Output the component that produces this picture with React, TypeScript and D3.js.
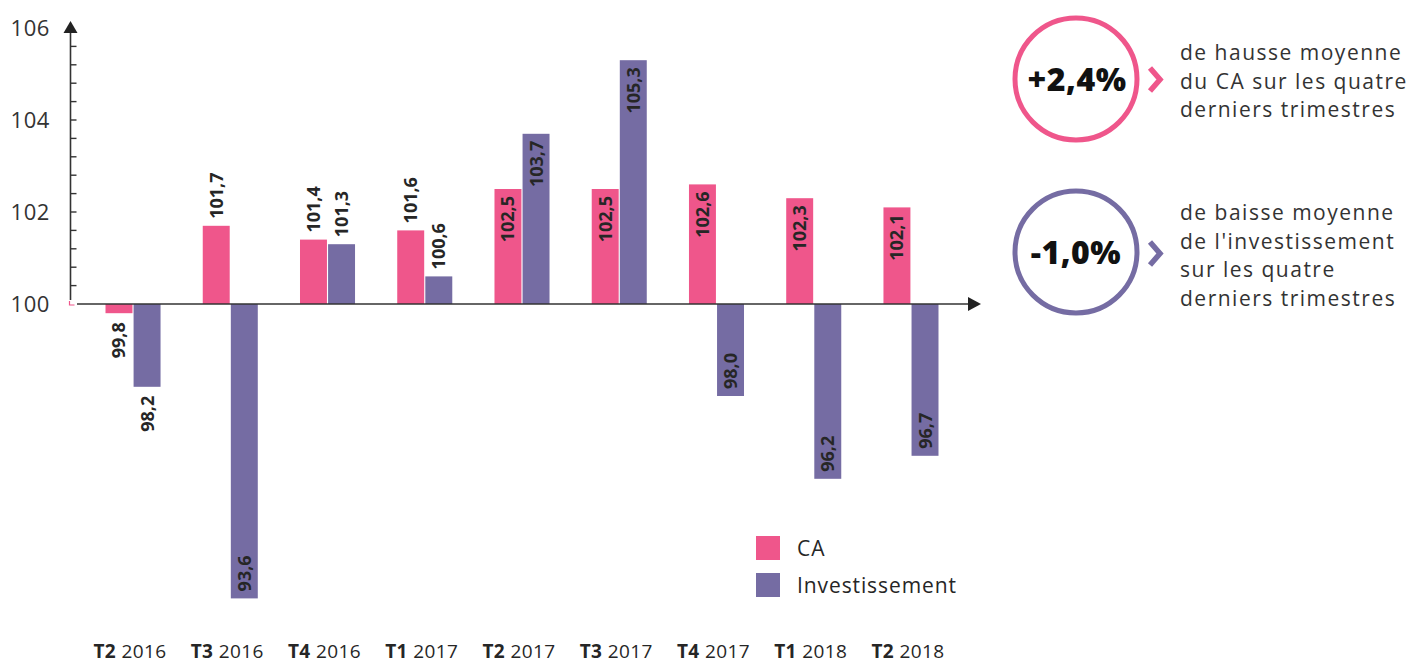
import React from "react";
import * as d3 from "d3";

const categories = ["T2|2016", "T3|2016", "T4|2016", "T1|2017", "T2|2017", "T3|2017", "T4|2017", "T1|2018", "T2|2018"];
const caValues = [99.8, 101.7, 101.4, 101.6, 102.5, 102.5, 102.6, 102.3, 102.1];
const invValues = [98.2, 93.6, 101.3, 100.6, 103.7, 105.3, 98.0, 96.2, 96.7];
const yTicks = [100, 102, 104, 106];
const seriesNames = ["CA", "Investissement"];
const PINK = "#ef568b";
const PURPLE = "#756ca3";
const colors = [PINK, PURPLE];
const TEXT = "#262626";
const FONT = "'Open Sans', Lato, sans-serif";

const fmt = (v: number) => v.toFixed(1).replace(".", ",");

export default function App() {
  const W = 1418, H = 664;
  const axisX = 70.5;
  const baseY = 304;
  const y = d3.scaleLinear().domain([100, 106]).range([baseY, 28]);
  const x = d3.scaleBand<string>().domain(categories).range([84.4, 959.6]).paddingInner(0.434).paddingOuter(0.217);
  const sub = d3.scaleBand<number>().domain([0, 1]).range([0, x.bandwidth()]).paddingInner(0.04);
  const minor = d3.range(100.4, 105.7, 0.4);

  const series = [caValues, invValues];

  return (
    <svg width={W} height={H} style={{ position: "absolute", left: 0, top: 0, background: "#fff" }} fontFamily={FONT}>
      {/* y axis */}
      <line x1={axisX} x2={axisX} y1={30} y2={300} stroke="#333" strokeWidth={1.6} />
      <path d={`M${axisX},21 L${axisX - 7},33 L${axisX + 7},33 Z`} fill="#222" />
      {minor.map((t, i) => (
        <line key={i} x1={axisX} x2={axisX + 6} y1={y(t)} y2={y(t)} stroke="#333" strokeWidth={1.4} />
      ))}
      {yTicks.map((t) => (
        <text key={t} x={50} y={y(t)} dy="0.36em" textAnchor="end" fontSize={22} letterSpacing={0.6} fill="#333">{t}</text>
      ))}
      <path d={`M${axisX - 1},301 L${axisX - 1},305 L${axisX + 4},305`} fill="none" stroke={PINK} strokeWidth={1.2} />

      {/* bars */}
      {categories.map((c, i) => (
        <g key={c}>
          {series.map((vals, s) => {
            const v = vals[i];
            const bx = (x(c) as number) + (sub(s) as number);
            const bw = sub.bandwidth();
            const top = Math.min(y(v), y(100));
            const bot = Math.max(y(v), y(100));
            const cx = bx + bw / 2;
            const inside = Math.abs(v - 100) >= 2;
            const pos = v >= 100;
            let ly: number, anchor: string;
            if (pos) {
              if (inside) { ly = top + 7; anchor = "end"; } else { ly = top - 7; anchor = "start"; }
            } else {
              if (inside) { ly = bot - 7; anchor = "start"; } else { ly = bot + 9; anchor = "end"; }
            }
            return (
              <g key={s}>
                <rect x={bx} y={top} width={bw} height={bot - top} fill={colors[s]} />
                <text transform={`translate(${cx},${ly}) rotate(-90)`} textAnchor={anchor} dy="0.36em" fontSize={18} fontWeight={700} fill={TEXT}>{fmt(v)}</text>
              </g>
            );
          })}
          <text x={(x(c) as number) + x.bandwidth() / 2 - 3} y={664 - 6} textAnchor="middle" fontSize={19} letterSpacing={0.4} fill={TEXT}>
            <tspan fontWeight={700}>{c.split("|")[0]}</tspan>
            <tspan> {c.split("|")[1]}</tspan>
          </text>
        </g>
      ))}

      {/* x axis */}
      <line x1={77} x2={970} y1={baseY} y2={baseY} stroke="#333" strokeWidth={1.6} />
      <path d={`M981,${baseY} L968,${baseY - 7} L968,${baseY + 7} Z`} fill="#222" />

      {/* legend */}
      {seriesNames.map((n, i) => (
        <g key={n} transform={`translate(756,${536 + i * 37})`}>
          <rect width={24} height={24} fill={colors[i]} />
          <text x={41} y={12} dy="0.36em" fontSize={21} letterSpacing={0.9} fill={TEXT}>{n}</text>
        </g>
      ))}

      {/* right panel */}
      <g>
        <circle cx={1076} cy={79} r={61} fill="none" stroke={PINK} strokeWidth={5} />
        <text x={1077} y={79} dy="0.36em" textAnchor="middle" fontSize={32} fontWeight={800} letterSpacing={0.5} fill="#111">+2,4%</text>
        <path d="M1150,68 L1160,79.5 L1150,91" fill="none" stroke={PINK} strokeWidth={5.5} strokeLinejoin="miter" />
        {["de hausse moyenne", "du CA sur les quatre", "derniers trimestres"].map((t, i) => (
          <text key={t} x={1180} y={60 + i * 28.7} fontSize={21} letterSpacing={1.5} fill="#333">{t}</text>
        ))}

        <circle cx={1076} cy={252} r={61} fill="none" stroke={PURPLE} strokeWidth={5} />
        <text x={1076} y={252} dy="0.36em" textAnchor="middle" fontSize={32} fontWeight={800} letterSpacing={0.5} fill="#111">-1,0%</text>
        <path d="M1150,242 L1160,253.5 L1150,265" fill="none" stroke={PURPLE} strokeWidth={5.5} strokeLinejoin="miter" />
        {["de baisse moyenne", "de l'investissement", "sur les quatre", "derniers trimestres"].map((t, i) => (
          <text key={t} x={1180} y={220 + i * 28.5} fontSize={21} letterSpacing={1.5} fill="#333">{t}</text>
        ))}
      </g>
    </svg>
  );
}
